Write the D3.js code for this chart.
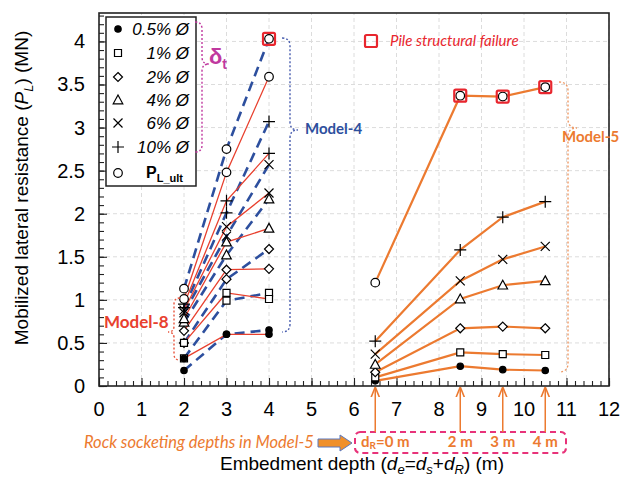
<!DOCTYPE html>
<html>
<head>
<meta charset="utf-8">
<script src="https://cdn.jsdelivr.net/npm/d3@7"></script>
<style>
  body { margin: 0; background: #fff; }
  svg text { font-family: "Liberation Sans", Arial, sans-serif; }
  svg text.note { font-family: Lato, "Open Sans", sans-serif; }
</style>
</head>
<body>
<div id="chart"></div>
<script>
// ---- data ----
var symbolNames = ["dot", "square", "diamond", "triangle", "times", "plus", "circle"];
var legendLabels = ["0.5% Ø", "1% Ø", "2% Ø", "4% Ø", "6% Ø", "10% Ø", "P_L_ult"];

// Model-8 (x=2) -> x=3 -> Model-4 (x=4)
var shortX = [2, 3, 4];
var redValues = [
  [0.32, 0.60, 0.60],
  [0.50, 1.08, 1.01],
  [0.64, 1.35, 1.36],
  [0.78, 1.67, 1.83],
  [0.88, 1.85, 2.24],
  [0.95, 2.15, 2.70],
  [1.01, 2.48, 3.59]
];
var blueValues = [
  [0.18, 0.60, 0.65],
  [0.32, 0.99, 1.08],
  [0.50, 1.24, 1.59],
  [0.74, 1.52, 2.17],
  [0.85, 1.74, 2.57],
  [0.91, 2.01, 3.07],
  [1.13, 2.75, 4.03]
];

// Model-5, rock socketed
var model5X = [6.5, 8.5, 9.5, 10.5];
var model5Values = [
  [0.06, 0.23, 0.19, 0.18],
  [0.10, 0.39, 0.37, 0.36],
  [0.16, 0.67, 0.69, 0.67],
  [0.25, 1.01, 1.17, 1.22],
  [0.37, 1.22, 1.47, 1.62],
  [0.52, 1.58, 1.96, 2.14],
  [1.20, 3.37, 3.36, 3.47]
];
var socketLabels = ["2 m", "3 m", "4 m"];

// points where pile failed structurally (x, value)
var failX = [4, 8.5, 9.5, 10.5];
var failY = [4.03, 3.37, 3.36, 3.47];

var xTicks = d3.range(0, 13, 1);
var yTicks = d3.range(0, 4.01, 0.5);

// ---- layout ----
var width = 622, height = 479;
var svg = d3.select("#chart").append("svg")
  .attr("width", width).attr("height", height);

var xScale = d3.scaleLinear().domain([0, 12]).range([99, 609]);
var yScale = d3.scaleLinear().domain([0, 4.33]).range([386, 13]);

var orange = "#ec7a30", red = "#e8402e", blue = "#2d4f9e", magenta = "#c0399f";

/* grid */
svg.append("g").selectAll("line").data(xTicks.slice(1)).join("line")
  .attr("x1", d => xScale(d)).attr("x2", d => xScale(d))
  .attr("y1", yScale.range()[0]).attr("y2", yScale.range()[1])
  .attr("stroke", "#dcdcdc").attr("stroke-dasharray", "4,3");
svg.append("g").selectAll("line").data(yTicks.slice(1)).join("line")
  .attr("y1", d => yScale(d)).attr("y2", d => yScale(d))
  .attr("x1", xScale.range()[0]).attr("x2", xScale.range()[1])
  .attr("stroke", "#dcdcdc").attr("stroke-dasharray", "4,3");

/* axes with inward ticks */
var xMinor = d3.axisTop(xScale).tickValues(d3.range(0, 12.01, 0.2)).tickSize(5).tickFormat("");
svg.append("g").attr("transform", "translate(0," + yScale(0) + ")").call(xMinor);
var xAxis = d3.axisTop(xScale).tickValues(xTicks).tickSize(8).tickFormat("");
svg.append("g").attr("transform", "translate(0," + yScale(0) + ")").call(xAxis);
var yMinor = d3.axisRight(yScale).tickValues(d3.range(0, 4.31, 0.1)).tickSize(5).tickFormat("");
svg.append("g").attr("transform", "translate(" + xScale(0) + ",0)").call(yMinor);
var yAxis = d3.axisRight(yScale).tickValues(yTicks).tickSize(8).tickFormat("");
svg.append("g").attr("transform", "translate(" + xScale(0) + ",0)").call(yAxis);
svg.selectAll(".domain").remove();
svg.selectAll(".tick line").attr("stroke", "#222").attr("stroke-width", 1.1);

svg.append("g").selectAll("text").data(xTicks).join("text")
  .attr("x", d => xScale(d)).attr("y", 416)
  .attr("text-anchor", "middle").style("font-size", "20px")
  .text(d => d);
svg.append("g").selectAll("text").data(yTicks).join("text")
  .attr("x", 85).attr("y", d => yScale(d) + 7)
  .attr("text-anchor", "end").style("font-size", "20px")
  .text(d => d3.format("~g")(d));

/* axis titles */
var yt = svg.append("text")
  .attr("transform", "translate(28,188) rotate(-90)")
  .attr("text-anchor", "middle").style("font-size", "19px");
yt.append("tspan").text("Mobilized lateral resistance (");
yt.append("tspan").style("font-style", "italic").text("P");
yt.append("tspan").style("font-style", "italic").style("font-size", "13px").attr("dy", 5).text("L");
yt.append("tspan").attr("dy", -5).text(") (MN)");

var xt = svg.append("text")
  .attr("x", 362).attr("y", 470)
  .attr("text-anchor", "middle").style("font-size", "19px");
xt.append("tspan").text("Embedment depth (");
xt.append("tspan").style("font-style", "italic").text("d");
xt.append("tspan").style("font-style", "italic").style("font-size", "13px").attr("dy", 4).text("e");
xt.append("tspan").attr("dy", -4).text("=");
xt.append("tspan").style("font-style", "italic").text("d");
xt.append("tspan").style("font-style", "italic").style("font-size", "13px").attr("dy", 4).text("s");
xt.append("tspan").attr("dy", -4).text("+");
xt.append("tspan").style("font-style", "italic").text("d");
xt.append("tspan").style("font-style", "italic").style("font-size", "13px").attr("dy", 4).text("R");
xt.append("tspan").attr("dy", -4).text(") (m)");

/* lines */
function seriesPoints(xs, vals) {
  return vals.map(v => v.map((y, i) => ({x: xs[i], y: y})));
}
var line = d3.line().x(d => xScale(d.x)).y(d => yScale(d.y));

svg.append("g").selectAll("path").data(seriesPoints(shortX, blueValues)).join("path")
  .attr("d", line).attr("fill", "none").attr("stroke", blue)
  .attr("stroke-width", 2.6).attr("stroke-dasharray", "10,6");
svg.append("g").selectAll("path").data(seriesPoints(shortX, redValues)).join("path")
  .attr("d", line).attr("fill", "none").attr("stroke", red).attr("stroke-width", 1.3);
svg.append("g").selectAll("path").data(seriesPoints(model5X, model5Values)).join("path")
  .attr("d", line).attr("fill", "none").attr("stroke", orange).attr("stroke-width", 2.2);

/* markers */
function markerPath(type) {
  var p = d3.path();
  if (type === "square") { p.rect(-3.5, -3.5, 7, 7); }
  else if (type === "diamond") { p.moveTo(0, -4.5); p.lineTo(4.5, 0); p.lineTo(0, 4.5); p.lineTo(-4.5, 0); p.closePath(); }
  else if (type === "triangle") { p.moveTo(0, -5); p.lineTo(4.8, 3.8); p.lineTo(-4.8, 3.8); p.closePath(); }
  else if (type === "times") { p.moveTo(-4.5, -4.5); p.lineTo(4.5, 4.5); p.moveTo(4.5, -4.5); p.lineTo(-4.5, 4.5); }
  else if (type === "plus") { p.moveTo(-6, 0); p.lineTo(6, 0); p.moveTo(0, -6); p.lineTo(0, 6); }
  else if (type === "circle") { p.arc(0, 0, 4.3, 0, 2 * Math.PI); }
  else { p.arc(0, 0, 3.2, 0, 2 * Math.PI); }
  return p.toString();
}
function markerFill(type) {
  return type === "dot" ? "#000" : (type === "times" || type === "plus" ? "none" : "#fff");
}
function drawMarkers(xs, vals) {
  var pts = [];
  vals.forEach((v, k) => v.forEach((y, i) => pts.push({x: xs[i], y: y, type: symbolNames[k]})));
  svg.append("g").selectAll("path").data(pts).join("path")
    .attr("transform", d => "translate(" + xScale(d.x) + "," + yScale(d.y) + ")")
    .attr("d", d => markerPath(d.type))
    .attr("fill", d => markerFill(d.type))
    .attr("stroke", "#000").attr("stroke-width", 1.2);
}
drawMarkers(shortX, blueValues);
drawMarkers(shortX, redValues);
drawMarkers(model5X, model5Values);

/* structural failure squares */
svg.append("g").selectAll("rect").data(failX).join("rect")
  .attr("x", d => xScale(d) - 6).attr("y", (d, i) => yScale(failY[i]) - 6)
  .attr("width", 12).attr("height", 12).attr("rx", 1.5)
  .attr("fill", "none").attr("stroke", "#e8262e").attr("stroke-width", 2.2);

/* plot frame */
svg.append("rect")
  .attr("x", xScale(0)).attr("y", yScale.range()[1])
  .attr("width", xScale(12) - xScale(0)).attr("height", yScale(0) - yScale.range()[1])
  .attr("fill", "none").attr("stroke", "#222").attr("stroke-width", 1.6);

/* legend */
var lg = svg.append("g");
lg.append("rect").attr("x", 106).attr("y", 17).attr("width", 90).attr("height", 169)
  .attr("fill", "#fff").attr("stroke", "#222").attr("stroke-width", 1.5);
var legendY = [29, 53, 77, 100, 123, 147, 173];
symbolNames.forEach(function(s, i) {
  lg.append("path").attr("transform", "translate(118," + legendY[i] + ")")
    .attr("d", markerPath(s)).attr("fill", markerFill(s))
    .attr("stroke", "#000").attr("stroke-width", 1.2);
  if (i < 6) {
    lg.append("text").attr("x", 189).attr("y", legendY[i] + 6)
      .attr("text-anchor", "end").style("font-size", "17px").style("font-style", "italic")
      .text(legendLabels[i]);
  } else {
    var t = lg.append("text").attr("x", 146).attr("y", legendY[i] + 5)
      .style("font-size", "16px").style("font-weight", "bold");
    t.append("tspan").text("P");
    t.append("tspan").attr("dy", 4).style("font-size", "11px").text("L_ult");
  }
});

/* braces */
function brace(x, y0, y1, tipY, dir, w) {
  var p = d3.path();
  p.moveTo(x - dir * w, y0);
  p.quadraticCurveTo(x, y0, x, y0 + w);
  p.lineTo(x, tipY - w);
  p.quadraticCurveTo(x, tipY, x + dir * w, tipY);
  p.quadraticCurveTo(x, tipY, x, tipY + w);
  p.lineTo(x, y1 - w);
  p.quadraticCurveTo(x, y1, x - dir * w, y1);
  return p.toString();
}
function addBrace(x, y0, y1, tipY, dir, w, color) {
  svg.append("path").attr("d", brace(x, y0, y1, tipY, dir, w))
    .attr("fill", "none").attr("stroke", color).attr("stroke-width", 1.4)
    .attr("stroke-dasharray", "2,2");
}
addBrace(202, 22, 152, 64, 1, 7, magenta);
addBrace(290, 38, 332, 130, 1, 8, "#4a5fb0");
addBrace(174, 298, 360, 332, -1, 6, "#e8553e");
addBrace(568, 82, 372, 128, 1, 9, "#ef9a66");

var dt = svg.append("text").attr("x", 209).attr("y", 64)
  .attr("fill", magenta).style("font-size", "22px").style("font-weight", "bold");
dt.append("tspan").text("δ");
dt.append("tspan").attr("dy", 5).style("font-size", "14px").text("t");

svg.append("text").attr("class", "note").attr("x", 305).attr("y", 134)
  .attr("fill", blue).style("font-size", "15px").style("font-weight", "bold").text("Model-4");
svg.append("text").attr("class", "note").attr("x", 104).attr("y", 328)
  .attr("fill", "#e8402e").style("font-size", "17px").style("font-weight", "bold").text("Model-8");
svg.append("text").attr("class", "note").attr("x", 562).attr("y", 142)
  .attr("fill", orange).style("font-size", "15px").style("font-weight", "bold").text("Model-5");

/* structural failure legend */
svg.append("rect").attr("x", 365).attr("y", 35).attr("width", 12).attr("height", 12).attr("rx", 1.5)
  .attr("fill", "none").attr("stroke", "#e8262e").attr("stroke-width", 2.2);
svg.append("text").attr("class", "note").attr("x", 390).attr("y", 46)
  .attr("fill", "#e8262e").style("font-size", "15px").style("font-style", "italic")
  .text("Pile structural failure");

/* rock socket annotation */
svg.append("rect").attr("x", 355).attr("y", 432).attr("width", 211).attr("height", 21).attr("rx", 5)
  .attr("fill", "none").attr("stroke", "#e8337a").attr("stroke-width", 2).attr("stroke-dasharray", "6,4");

svg.append("defs").append("marker").attr("id", "arr")
  .attr("viewBox", "0 0 10 10").attr("refX", 9).attr("refY", 5)
  .attr("markerWidth", 7).attr("markerHeight", 7).attr("orient", "auto")
  .append("path").attr("d", "M0,1 L10,5 L0,9").attr("fill", "none").attr("stroke", orange).attr("stroke-width", 1.5);
svg.append("g").selectAll("line").data(model5X).join("line")
  .attr("x1", d => xScale(d)).attr("x2", d => xScale(d))
  .attr("y1", 432).attr("y2", yScale(0) + 2)
  .attr("stroke", orange).attr("stroke-width", 1.5).attr("marker-end", "url(#arr)");

var d0 = svg.append("text").attr("class", "note").attr("x", 361).attr("y", 447)
  .attr("fill", orange).style("font-size", "15px").style("font-weight", "bold");
d0.append("tspan").text("d");
d0.append("tspan").attr("dy", 2).style("font-size", "10px").text("R");
d0.append("tspan").attr("dy", -2).text("=0 m");
svg.append("g").selectAll("text").data(socketLabels).join("text").attr("class", "note")
  .attr("x", (d, i) => xScale(model5X[i + 1])).attr("y", 447)
  .attr("text-anchor", "middle").attr("fill", orange)
  .style("font-size", "15px").style("font-weight", "bold").text(d => d);

svg.append("text").attr("class", "note").attr("x", 84).attr("y", 448)
  .attr("fill", orange).style("font-size", "16.5px").style("font-style", "italic")
  .text("Rock socketing depths in Model-5");
svg.append("path")
  .attr("d", "M318,439 L340,439 L340,435 L352,443 L340,451 L340,447 L318,447 Z")
  .attr("fill", "#f0902a").attr("stroke", "#5a78c0").attr("stroke-width", 1);
</script>
</body>
</html>
